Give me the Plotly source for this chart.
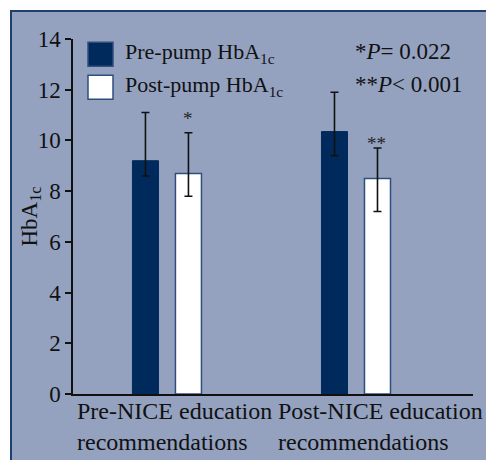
import plotly.graph_objects as go

# ---- data ----
groups = ["Pre-NICE education<br>recommendations", "Post-NICE education<br>recommendations"]
group_pos = [0, 1]
pre_pump = [9.2, 10.35]
pre_plus = [1.9, 1.55]
pre_minus = [0.6, 0.95]
post_pump = [8.7, 8.5]
post_plus = [1.6, 1.2]
post_minus = [0.9, 1.3]
sig_marks = ["*", "**"]
y_ticks = [0, 2, 4, 6, 8, 10, 12, 14]
legend_names = ["Pre-pump HbA<sub>1c</sub>", "Post-pump HbA<sub>1c</sub>"]
p_texts = ["*<i>P</i>= 0.022", "**<i>P</i>< 0.001"]
y_title = "HbA<sub>1c</sub>"

NAVY = "#002a5c"
PANEL = "#94a2c0"
BORDER = "#1f3f6e"
FONT = "Liberation Serif, Times New Roman, serif"
FS = 23

fig = go.Figure()
fig.add_trace(go.Bar(
    x=group_pos, y=pre_pump, name=legend_names[0],
    marker=dict(color=NAVY, line=dict(color=NAVY, width=1)),
    error_y=dict(type="data", symmetric=False, array=pre_plus, arrayminus=pre_minus,
                 color="#111111", thickness=1.6, width=4),
))
fig.add_trace(go.Bar(
    x=group_pos, y=post_pump, name=legend_names[1],
    marker=dict(color="white", line=dict(color="#2e4f7e", width=1.5)),
    error_y=dict(type="data", symmetric=False, array=post_plus, arrayminus=post_minus,
                 color="#111111", thickness=1.6, width=4),
))

# panel background
fig.add_shape(type="rect", xref="paper", yref="paper",
              x0=-0.155, x1=1.2, y0=-0.3, y1=1.0789,
              fillcolor=PANEL, line=dict(color=BORDER, width=2), layer="below")

# significance stars
yshifts = [2, -8]
for i, g in enumerate(group_pos):
    fig.add_annotation(x=g, y=post_pump[i] + post_plus[i], xref="x", yref="y",
                       text=sig_marks[i], showarrow=False, xshift=21,
                       yanchor="bottom", yshift=yshifts[i],
                       font=dict(family=FONT, size=19, color="#222222"))

# category labels (left aligned)
label_x = [0.005, 0.5075]
for i, g in enumerate(groups):
    fig.add_annotation(x=label_x[i], y=-0.005, xref="paper", yref="paper",
                       text=g, showarrow=False, xanchor="left", yanchor="top",
                       align="left", font=dict(family=FONT, size=24, color="#111111"))

# y-axis title
fig.add_annotation(x=-0.1075, y=0.5, xref="paper", yref="paper", text=y_title,
                   textangle=-90, showarrow=False, xanchor="center", yanchor="middle",
                   font=dict(family=FONT, size=FS, color="#111111"))

# custom legend
leg_y = [0.957, 0.864]
fills = [NAVY, "white"]
for i in range(2):
    fig.add_shape(type="rect", xref="paper", yref="paper",
                  x0=0.0375, x1=0.1, y0=leg_y[i] - 0.034, y1=leg_y[i] + 0.034,
                  fillcolor=fills[i], line=dict(color="#2e4f7e", width=1.5))
    fig.add_annotation(x=0.125, y=leg_y[i] + 0.004, xref="paper", yref="paper",
                       text=legend_names[i], showarrow=False, xanchor="left",
                       yanchor="middle", font=dict(family=FONT, size=22, color="#111111"))
    fig.add_annotation(x=0.70, y=leg_y[i] + 0.008, xref="paper", yref="paper",
                       text=p_texts[i], showarrow=False, xanchor="left",
                       yanchor="middle", font=dict(family=FONT, size=FS, color="#111111"))

fig.update_layout(
    width=486, height=452,
    margin=dict(l=65, r=21, t=31, b=66),
    paper_bgcolor="white", plot_bgcolor="rgba(0,0,0,0)",
    barmode="group", bargap=0.545, bargroupgap=0.395,
    showlegend=False,
    font=dict(family=FONT, size=FS, color="#111111"),
)
fig.update_xaxes(range=[-0.497, 1.619], showticklabels=False, ticks="",
                 showgrid=False, zeroline=False, showline=True,
                 linecolor="#111111", linewidth=1.5)
fig.update_yaxes(range=[0, 14], tickvals=y_ticks, ticks="outside", ticklen=6,
                 tickwidth=1.5, tickcolor="#111111", showgrid=False, zeroline=False,
                 showline=True, linecolor="#111111", linewidth=1.5,
                 tickfont=dict(family=FONT, size=FS, color="#111111"))

fig.write_html("out.html")
